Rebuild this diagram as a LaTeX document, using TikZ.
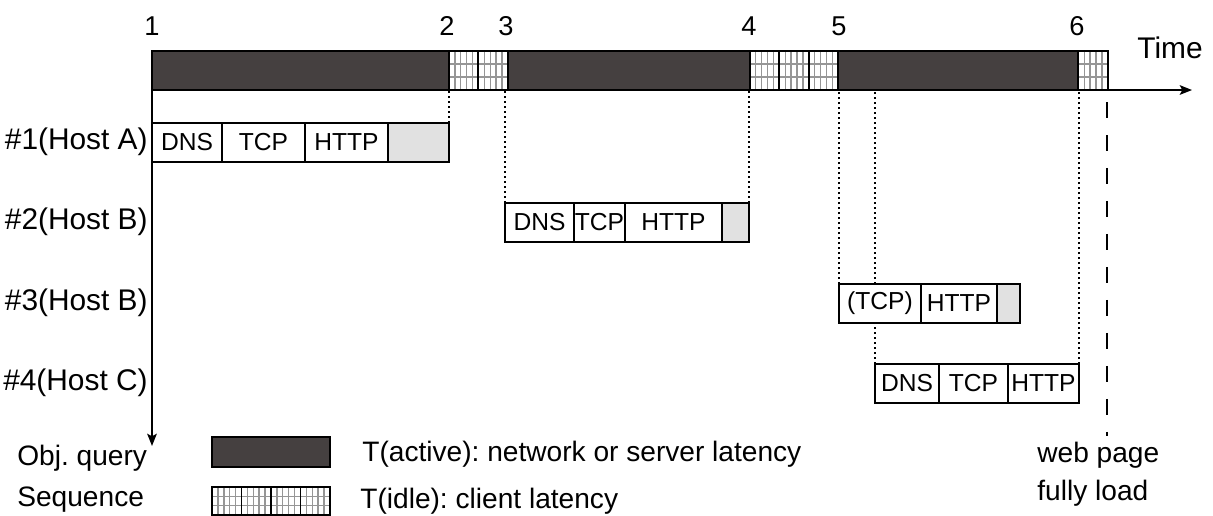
\documentclass[tikz,border=0pt]{standalone}
\usepackage{fontspec}
\setmainfont{Liberation Sans}
\usetikzlibrary{positioning,calc,arrows.meta,backgrounds}
\frenchspacing

\definecolor{busy}{RGB}{69,64,64}
\definecolor{waitline}{RGB}{150,150,150}
\definecolor{tail}{RGB}{225,225,225}

\tikzset{
  active/.style={draw,fill=busy,line width=0.9pt,minimum height=0.78cm,inner sep=0pt,outer sep=0pt},
  idle/.style={draw,line width=1.1pt,minimum height=0.78cm,minimum width=0.59cm,inner sep=0pt,outer sep=0pt,
    path picture={
      \foreach \i in {1,...,4}
        \draw[waitline,line width=0.8pt] ($(path picture bounding box.south west)!\i/5!(path picture bounding box.south east)$) -- ($(path picture bounding box.north west)!\i/5!(path picture bounding box.north east)$);
      \foreach \j in {1,2}
        \draw[waitline,line width=0.8pt] ($(path picture bounding box.south west)!\j/3!(path picture bounding box.north west)$) -- ($(path picture bounding box.south east)!\j/3!(path picture bounding box.north east)$);
    }},
  cell/.style={draw,fill=white,line width=0.8pt,minimum height=0.78cm,inner sep=0pt,outer sep=0pt,font=\fontsize{14}{17}\selectfont},
  lbl/.style={inner sep=0pt,font=\fontsize{17}{20}\selectfont},
  num/.style={inner sep=0pt,font=\fontsize{15.5}{18}\selectfont},
  txt/.style={inner sep=0pt,font=\fontsize{16}{19}\selectfont},
  guide/.style={line width=0.8pt,dash pattern=on 0.04cm off 0.06cm},
  loadline/.style={line width=0.85pt,dash pattern=on 0.32cm off 0.34cm},
  axis/.style={line width=1pt,-{Stealth[length=7pt,width=5.5pt,inset=1.5pt]}}
}

\begin{document}
\begin{tikzpicture}[x=0.02cm,y=-0.02cm]
\useasboundingbox (0,0) rectangle (1213,515);

\node[active,minimum width=5.94cm,anchor=north west] (a1) at (152,51) {};
\node[idle,right=0pt of a1] (i1) {};
\node[idle,right=0pt of i1] (i2) {};
\node[active,minimum width=4.84cm,right=0pt of i2] (a2) {};
\node[idle,right=0pt of a2] (i3) {};
\node[idle,right=0pt of i3] (i4) {};
\node[idle,right=0pt of i4] (i5) {};
\node[active,minimum width=4.8cm,right=0pt of i5] (a3) {};
\node[idle,right=0pt of a3] (i6) {};

\foreach \x [count=\n] in {152,447,506,749,839,1077}
  \node[num,anchor=base] (t\n) at (\x,35) {\n};
\node[lbl,anchor=base west] (time) at (1137,58) {Time};

\coordinate (tend) at (1192,90);
\coordinate (qend) at (152,446);
\draw[axis] (a1.south west) -- (tend);
\draw[axis] (a1.south west) -- (qend);

\foreach \y/\h [count=\n] in {142/A,222/B,303/B,383/C}
  \node[lbl,anchor=east] (q\n) at (148,\y) {\#\n(Host \h)};

\node[cell,minimum width=1.4cm,anchor=north west] (h1a) at (152,123) {DNS};
\node[cell,minimum width=1.66cm,right=0pt of h1a] (h1b) {TCP};
\node[cell,minimum width=1.66cm,right=0pt of h1b] (h1c) {HTTP};
\node[cell,fill=tail,minimum width=1.22cm,right=0pt of h1c] (h1d) {};

\node[cell,minimum width=1.38cm,anchor=north west] (h2a) at (505,203) {DNS};
\node[cell,minimum width=1.02cm,right=0pt of h2a] (h2b) {TCP};
\node[cell,minimum width=1.94cm,right=0pt of h2b] (h2c) {HTTP};
\node[cell,fill=tail,minimum width=0.54cm,right=0pt of h2c] (h2d) {};

\node[cell,minimum width=1.64cm,anchor=north west] (h3a) at (839,284) {(TCP)};
\node[cell,minimum width=1.52cm,right=0pt of h3a] (h3b) {HTTP};
\node[cell,fill=tail,minimum width=0.46cm,right=0pt of h3b] (h3c) {};

\node[cell,minimum width=1.28cm,anchor=north west] (h4a) at (875,364) {DNS};
\node[cell,minimum width=1.38cm,right=0pt of h4a] (h4b) {TCP};
\node[cell,minimum width=1.42cm,right=0pt of h4b] (h4c) {HTTP};

\begin{scope}[on background layer]
\draw[guide] (h1d.north east) -- (h1d.north east |- a1.south);
\draw[guide] (h2a.north west) -- (h2a.north west |- a2.south);
\draw[guide] (h2d.north east) -- (h2d.north east |- a2.south);
\draw[guide] (h3a.north west) -- (h3a.north west |- a3.south);
\draw[guide] (h4a.north west) -- (h4a.north west |- a3.south);
\draw[guide] (h4c.north east) -- (h4c.north east |- a3.south);
\end{scope}

\coordinate (wp1) at (1107,102);
\coordinate (wp2) at (1107,436);
\draw[loadline] (wp1) -- (wp2);

\node[active,minimum width=2.36cm,minimum height=0.6cm,anchor=north west] (keyA) at (212,437) {};
\node[idle,minimum height=0.56cm,anchor=north west] (keyI1) at (212,487) {};
\foreach \n [count=\p] in {2,...,4}
  \node[idle,minimum height=0.56cm,right=0pt of keyI\p] (keyI\n) {};

\node[txt,anchor=base west] (keyAtxt) at (362,461) {T(active): network or server latency};
\node[txt,anchor=base west] (keyItxt) at (360,508) {T(idle): client latency};
\node[txt,anchor=base west] (objq) at (17,465) {Obj. query};
\node[txt,anchor=base west] (seq) at (17,506) {Sequence};
\node[txt,anchor=base west] (web) at (1037,462) {web page};
\node[txt,anchor=base west] (full) at (1037,500) {fully load};
\end{tikzpicture}
\end{document}
